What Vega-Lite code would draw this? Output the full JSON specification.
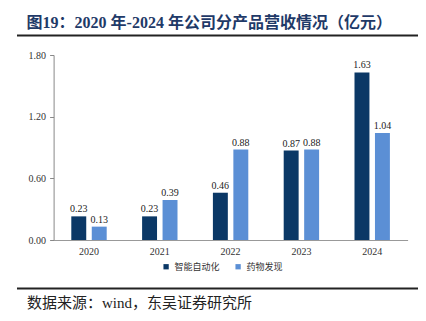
{
  "$schema": "https://vega.github.io/schema/vega-lite/v6.json",
  "width": 354,
  "height": 185,
  "autosize": {"type": "none"},
  "padding": {"left": 53.6, "top": 55, "right": 18.4, "bottom": 81},
  "background": "white",
  "config": {
    "view": {"stroke": null},
    "font": "Liberation Serif, Noto Sans CJK SC"
  },
  "title": {
    "text": "图19：2020 年-2024 年公司分产品营收情况（亿元）",
    "anchor": "start",
    "frame": "group",
    "dx": -27,
    "offset": 3,
    "fontSize": 16,
    "fontWeight": "bold",
    "color": "#1f3a68",
    "font": "Liberation Serif, Noto Sans CJK SC"
  },
  "data": {
    "values": [
      {"year": "2020", "series": "智能自动化", "value": 0.23},
      {"year": "2020", "series": "药物发现", "value": 0.13},
      {"year": "2021", "series": "智能自动化", "value": 0.23},
      {"year": "2021", "series": "药物发现", "value": 0.39},
      {"year": "2022", "series": "智能自动化", "value": 0.46},
      {"year": "2022", "series": "药物发现", "value": 0.88},
      {"year": "2023", "series": "智能自动化", "value": 0.87},
      {"year": "2023", "series": "药物发现", "value": 0.88},
      {"year": "2024", "series": "智能自动化", "value": 1.63},
      {"year": "2024", "series": "药物发现", "value": 1.04}
    ]
  },
  "resolve": {"scale": {"x": "independent"}},
  "layer": [
    {
      "mark": {"type": "bar"},
      "encoding": {
        "x": {
          "field": "year", "type": "nominal",
          "scale": {"paddingInner": 0.5, "paddingOuter": 0.25},
          "axis": {"title": null, "labelAngle": 0, "ticks": false, "domainColor": "#999999", "labelFontSize": 10, "labelColor": "#333333", "labelPadding": 6}
        },
        "xOffset": {"field": "series", "type": "nominal", "sort": ["智能自动化", "药物发现"], "scale": {"paddingInner": 0.27, "paddingOuter": 0}},
        "y": {
          "field": "value", "type": "quantitative",
          "scale": {"domain": [0, 1.8], "nice": false, "zero": true},
          "axis": {"title": null, "values": [0, 0.6, 1.2, 1.8], "format": ".2f", "grid": false, "tickSize": 4, "tickColor": "#888888", "domainColor": "#888888", "labelFontSize": 10, "labelColor": "#333333", "labelPadding": 4}
        },
        "color": {
          "field": "series", "type": "nominal",
          "sort": ["智能自动化", "药物发现"],
          "scale": {"domain": ["智能自动化", "药物发现"], "range": ["#0b3866", "#5b8fd5"]},
          "legend": {"title": null, "orient": "none", "legendX": 108, "legendY": 207, "padding": 0, "direction": "horizontal", "symbolType": "square", "symbolSize": 28, "labelFontSize": 9, "labelColor": "#333333", "labelFont": "Noto Sans CJK SC", "labelOffset": 4, "columnPadding": 13, "symbolStrokeWidth": 0}
        }
      }
    },
    {
      "mark": {"type": "text", "baseline": "bottom", "dy": -2, "fontSize": 10, "color": "#222222"},
      "encoding": {
        "x": {"field": "year", "type": "nominal", "scale": {"paddingInner": 0.5, "paddingOuter": 0.25}, "axis": null},
        "xOffset": {"field": "series", "type": "nominal", "sort": ["智能自动化", "药物发现"], "scale": {"paddingInner": 0.27, "paddingOuter": 0}},
        "y": {"field": "value", "type": "quantitative"},
        "text": {"field": "value", "type": "quantitative", "format": ".2f"}
      }
    },
    {
      "data": {"values": [{"lineY": 1.99}, {"lineY": -0.472}]},
      "mark": {"type": "rule", "strokeWidth": 2},
      "encoding": {
        "x": {"datum": -0.1034, "type": "quantitative", "scale": {"domain": [0, 1], "nice": false, "zero": false}, "axis": null},
        "x2": {"datum": 1.0294},
        "y": {"field": "lineY", "type": "quantitative"},
        "color": {"value": "#222222"}
      }
    },
    {
      "data": {"values": [{"note": "数据来源：wind，东吴证券研究所", "pos": -0.613}]},
      "mark": {"type": "text", "align": "left", "baseline": "middle", "fontSize": 15, "font": "Liberation Serif, Noto Sans CJK SC"},
      "encoding": {
        "x": {"datum": -0.0751, "type": "quantitative", "scale": {"domain": [0, 1], "nice": false, "zero": false}, "axis": null},
        "y": {"field": "pos", "type": "quantitative"},
        "text": {"field": "note", "type": "nominal"},
        "color": {"value": "#222222"}
      }
    }
  ]
}
